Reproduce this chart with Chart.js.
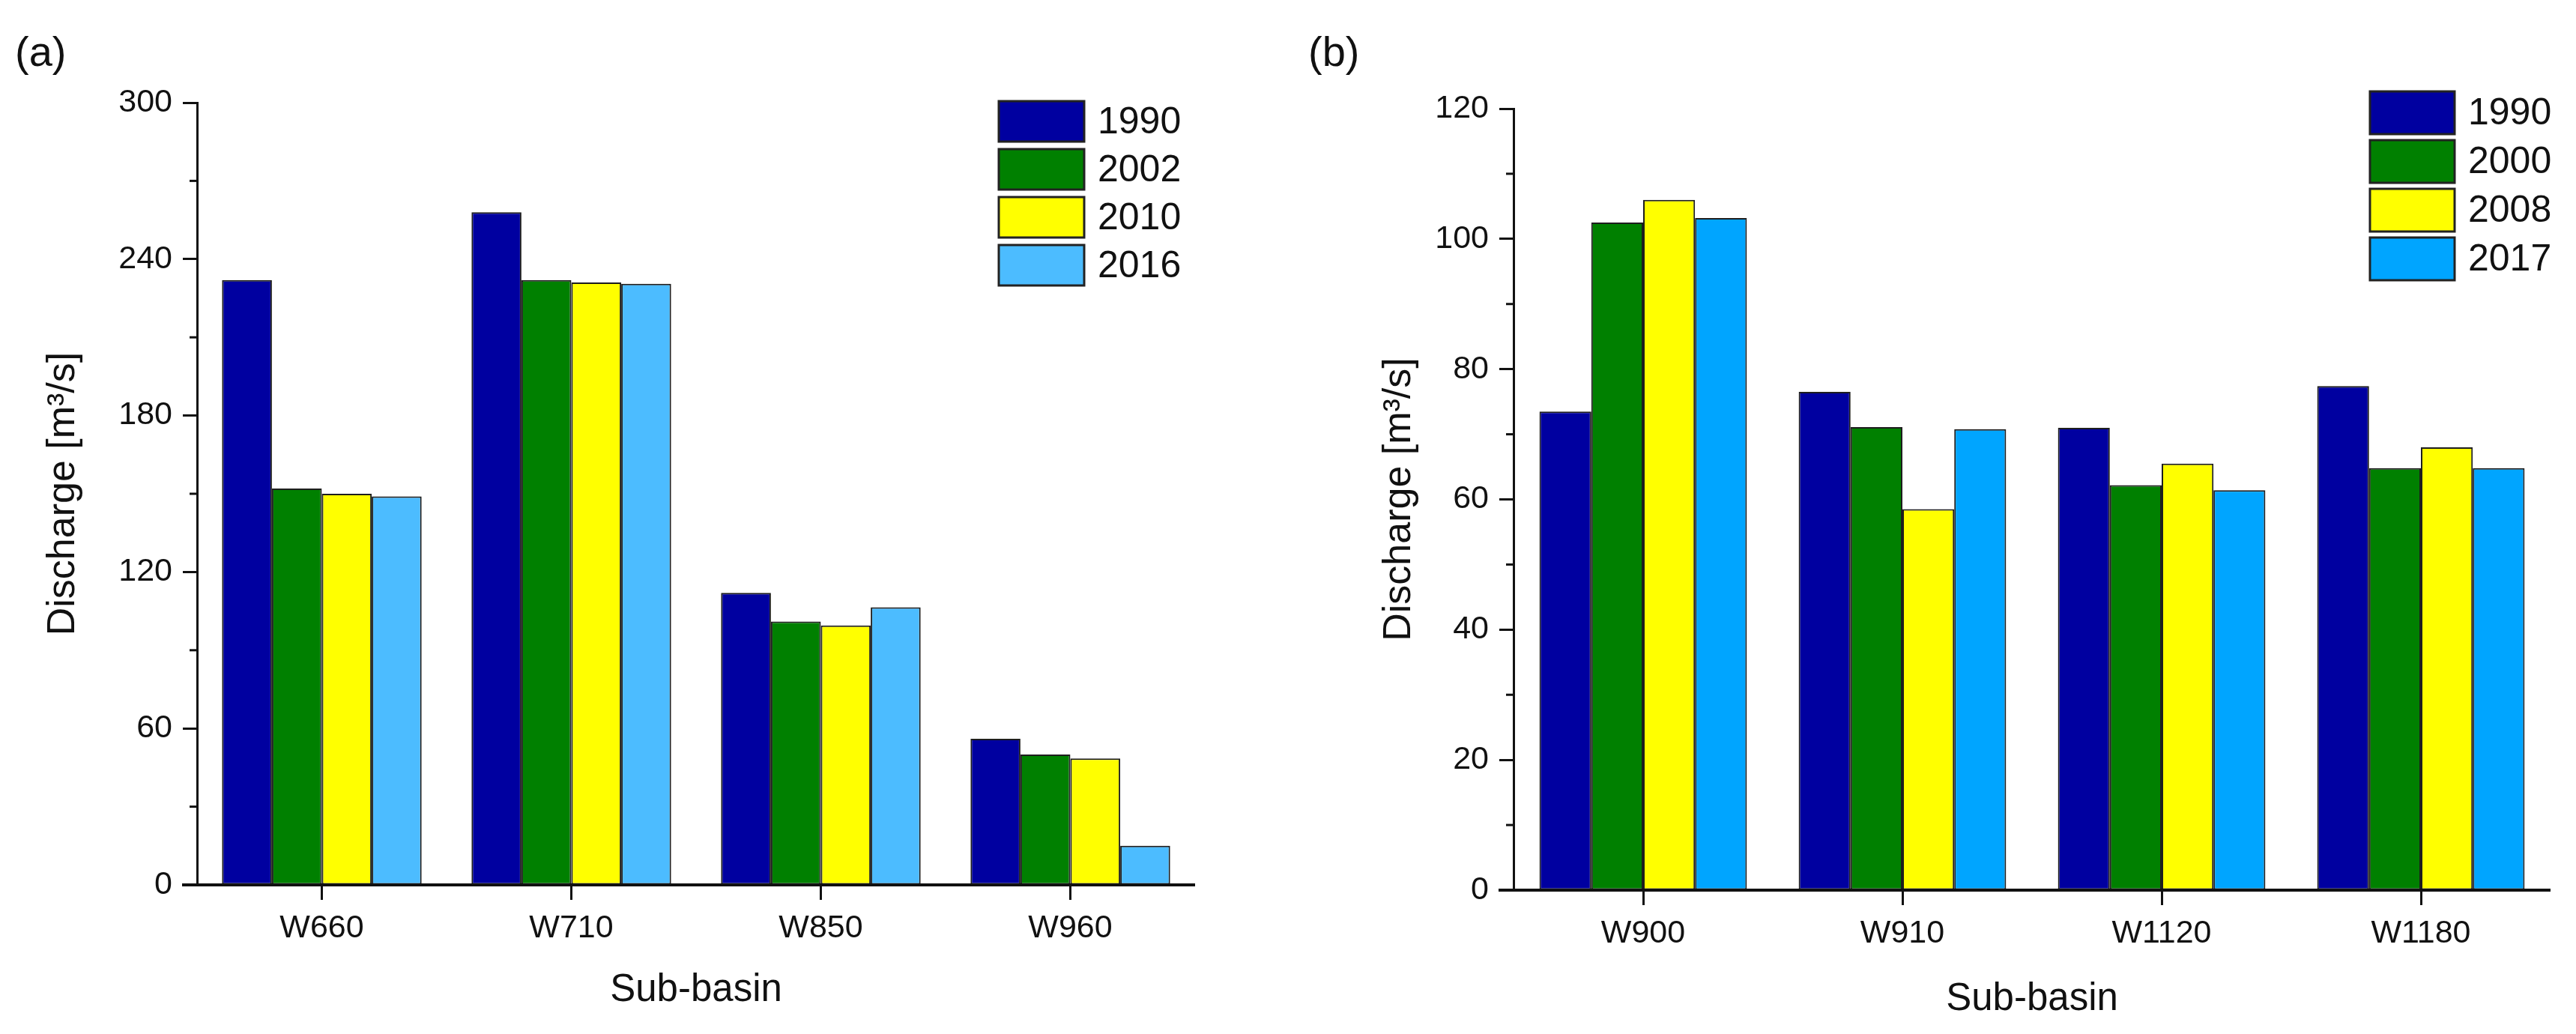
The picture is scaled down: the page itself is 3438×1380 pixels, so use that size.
<!DOCTYPE html>
<html>
<head>
<meta charset="utf-8">
<script src="https://cdn.jsdelivr.net/npm/chart.js@4.4.0/dist/chart.umd.min.js"></script>
<style>
  html, body { margin: 0; padding: 0; background: #fff; }
  body { width: 3438px; height: 1380px; position: relative; overflow: hidden; font-family: "Liberation Sans", Arial, sans-serif; }
  .panel { position: absolute; top: 0; width: 1719px; height: 1380px; }
  .tag { position: absolute; font-size: 56px; color: #111; }
</style>
</head>
<body>
<div class="panel" style="left:0"><canvas id="chartA" width="1719" height="1380"></canvas></div>
<div class="panel" style="left:1719px"><canvas id="chartB" width="1719" height="1380"></canvas></div>
<div class="tag" style="left:20px;top:36px">(a)</div>
<div class="tag" style="left:1746px;top:36px">(b)</div>
<script>
// panel (a)
var catsA = ['W660', 'W710', 'W850', 'W960'];
var yearsA = ['1990', '2002', '2010', '2016'];
var a1990 = [232, 258, 112, 56];
var a2002 = [152, 232, 101, 50];
var a2010 = [150, 231, 99.5, 48.5];
var a2016 = [149, 230.5, 106.5, 15];

// panel (b)
var catsB = ['W900', 'W910', 'W1120', 'W1180'];
var yearsB = ['1990', '2000', '2008', '2017'];
var b1990 = [73.5, 76.5, 71, 77.4];
var b2000 = [102.5, 71.1, 62.2, 64.8];
var b2008 = [106, 58.5, 65.5, 68];
var b2017 = [103.2, 70.8, 61.4, 64.8];

var colorsA = ['#0000a0', '#008000', '#ffff00', '#4cbcff'];
var colorsB = ['#0000a0', '#008000', '#ffff00', '#00a5ff'];

const FONT = '"Liberation Sans", Arial, sans-serif';
const INK = '#111';

// minor ticks, longer x axis line and the boxed legend
const originStyle = {
  id: 'originStyle',
  afterDraw(chart, args, opts) {
    const ctx = chart.ctx;
    const y = chart.scales.y, x = chart.scales.x;
    const area = chart.chartArea;
    ctx.save();
    ctx.strokeStyle = INK;
    ctx.lineWidth = 3;
    const t = y.ticks;
    for (let i = 0; i < t.length - 1; i++) {
      const py = y.getPixelForValue((t[i].value + t[i + 1].value) / 2);
      ctx.beginPath();
      ctx.moveTo(area.left - 10, py);
      ctx.lineTo(area.left, py);
      ctx.stroke();
    }
    ctx.lineWidth = 4;
    ctx.beginPath();
    ctx.moveTo(area.left - 20, area.bottom);
    ctx.lineTo(area.right, area.bottom);
    ctx.stroke();

    // legend
    const lg = opts.box;
    ctx.font = opts.fontSize + 'px ' + FONT;
    ctx.textBaseline = 'middle';
    chart.data.datasets.forEach(function (ds, i) {
      const top = lg.y + i * lg.step;
      ctx.fillStyle = ds.backgroundColor;
      ctx.fillRect(lg.x, top, lg.w, lg.h);
      ctx.strokeStyle = '#222';
      ctx.lineWidth = 3;
      ctx.strokeRect(lg.x, top, lg.w, lg.h);
      ctx.fillStyle = INK;
      ctx.fillText(ds.label, lg.x + lg.w + 18, top + lg.h / 2 + 2);
    });
    ctx.restore();
  }
};

function makeChart(id, cats, years, series, colors, yMax, yStep, pad, yW, xH, yTitlePad, xTitlePad, box) {
  return new Chart(document.getElementById(id), {
    type: 'bar',
    data: {
      labels: cats,
      datasets: series.map(function (vals, i) {
        return {
          label: years[i],
          data: vals,
          backgroundColor: colors[i],
          borderColor: '#1e1e1e',
          borderWidth: 2,
          borderSkipped: false,
          barPercentage: 1.0,
          categoryPercentage: 0.8
        };
      })
    },
    options: {
      responsive: false,
      devicePixelRatio: 1,
      animation: false,
      layout: { padding: pad },
      plugins: {
        legend: { display: false },
        tooltip: { enabled: false },
        originStyle: { box: box, fontSize: 50 }
      },
      scales: {
        x: {
          afterFit: function (s) { s.height = xH; },
          grid: { display: true, drawOnChartArea: false, drawTicks: true, tickLength: 20, offset: false, color: INK, tickWidth: 3 },
          border: { display: false },
          ticks: { font: { family: FONT, size: 43 }, color: INK, padding: 12 },
          title: { display: true, text: 'Sub-basin', font: { family: FONT, size: 51 }, color: INK, padding: { bottom: xTitlePad } }
        },
        y: {
          min: 0,
          max: yMax,
          afterFit: function (s) { s.width = yW; },
          grid: { display: true, drawOnChartArea: false, drawTicks: true, tickLength: 19, color: INK, tickWidth: 3 },
          border: { display: true, color: INK, width: 3 },
          ticks: { stepSize: yStep, font: { family: FONT, size: 43 }, color: INK, padding: 14 },
          title: { display: true, text: 'Discharge [m³/s]', font: { family: FONT, size: 52 }, color: INK, padding: { top: yTitlePad } }
        }
      }
    },
    plugins: [originStyle]
  });
}

makeChart('chartA', catsA, yearsA, [a1990, a2002, a2010, a2016], colorsA, 300, 60,
  { left: 0, top: 137, right: 124, bottom: 0 }, 263, 199, 53, 27,
  { x: 1333, y: 135, w: 114, h: 54, step: 64 });

makeChart('chartB', catsB, yearsB, [b1990, b2000, b2008, b2017], colorsB, 120, 20,
  { left: 0, top: 145, right: 34, bottom: 0 }, 301, 192, 117, 15,
  { x: 1444, y: 122, w: 113, h: 57, step: 65 });
</script>
</body>
</html>
